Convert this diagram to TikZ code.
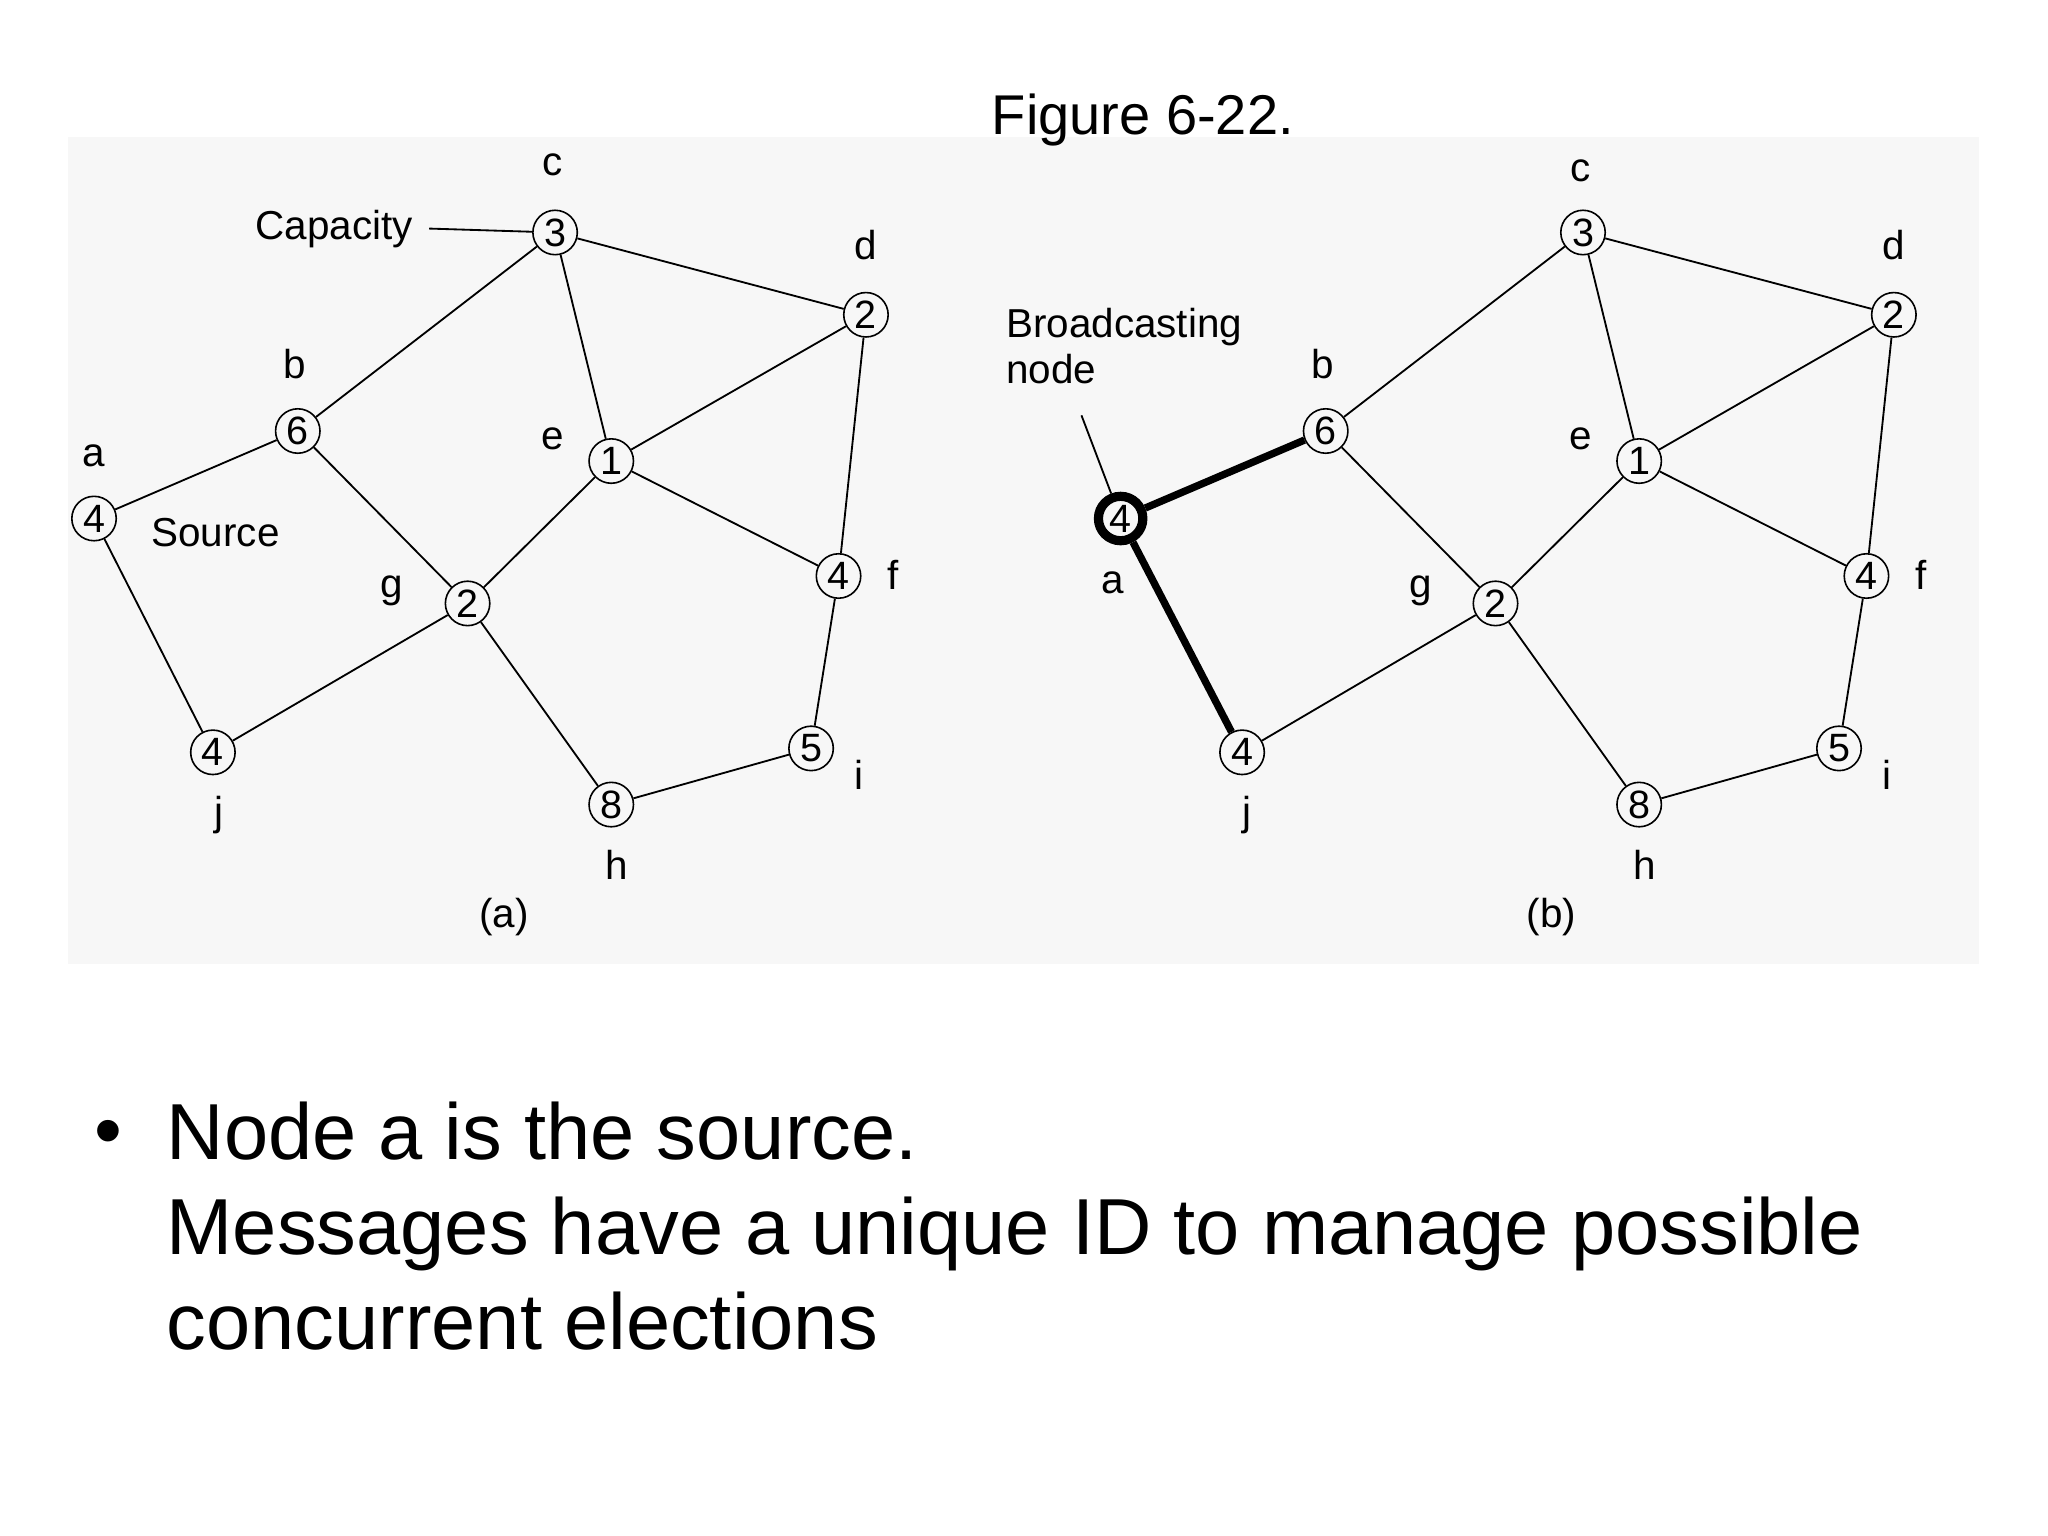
\documentclass[tikz,border=0pt]{standalone}
\usepackage{fontspec}
\setmainfont{Liberation Sans}
\begin{document}
\begin{tikzpicture}[x=0.01cm,y=-0.01cm,
  nd/.style={circle,draw,line width=0.35pt,minimum size=0.34cm,inner sep=0pt,font=\fontsize{8.6}{9}\selectfont},
  lb/.style={font=\fontsize{8.8}{10}\selectfont},
  ed/.style={line width=0.4pt},
  thk/.style={line width=1.6pt}]
\useasboundingbox (0,0) rectangle (1568,1176);
\fill[black!3] (52,105) rectangle (1515,738);
\node[font=\fontsize{12.2}{14}\selectfont] (title) at (875,92) {Figure 6-22.};
% ---------- (a)
\begin{scope}
\node[nd] (c) at (425,178) {3};
\node[nd] (d) at (663,241) {2};
\node[nd] (b) at (228,330) {6};
\node[nd] (e) at (468,353) {1};
\node[nd] (a) at (72,397) {4};
\node[nd] (f) at (642,441) {4};
\node[nd] (g) at (358,462) {2};
\node[nd] (j) at (163,576) {4};
\node[nd] (i) at (621,573) {5};
\node[nd] (h) at (468,616) {8};
\node[lb] (lc) at (423,126) {c};
\node[lb] (ld) at (663,188) {d};
\node[lb] (lb) at (226,279) {b};
\node[lb] (le) at (423,336) {e};
\node[lb] (la) at (72,349) {a};
\node[lb] (lf) at (684,440) {f};
\node[lb] (lg) at (300,452) {g};
\node[lb] (lj) at (168,624) {j};
\node[lb] (li) at (658,593) {i};
\node[lb] (lh) at (472,662) {h};
\node[lb] (cap) at (256,175) {Capacity};
\node[lb] (src) at (165,408) {Source};
\node[lb] (capa) at (386,702) {(a)};
\draw[ed] (cap.east) -- (c);
\foreach \u/\v in {a/b,b/c,c/d,c/e,b/g,e/d,e/f,d/f,e/g,a/j,j/g,g/h,h/i,i/f}
  \draw[ed] (\u) -- (\v);
\end{scope}
% ---------- (b)
\begin{scope}
\node[nd] (c2) at (1212,178) {3};
\node[nd] (d2) at (1450,241) {2};
\node[nd] (b2) at (1015,330) {6};
\node[nd] (e2) at (1255,353) {1};
\node[nd,line width=2pt] (a2) at (858,397) {4};
\node[nd] (f2) at (1429,441) {4};
\node[nd] (g2) at (1145,462) {2};
\node[nd] (j2) at (951,576) {4};
\node[nd] (i2) at (1408,573) {5};
\node[nd] (h2) at (1255,616) {8};
\node[lb] (lc2) at (1210,131) {c};
\node[lb] (ld2) at (1450,188) {d};
\node[lb] (lb2) at (1013,279) {b};
\node[lb] (le2) at (1210,336) {e};
\node[lb] (la2) at (852,446) {a};
\node[lb] (lf2) at (1471,440) {f};
\node[lb] (lg2) at (1088,452) {g};
\node[lb] (lj2) at (955,624) {j};
\node[lb] (li2) at (1445,593) {i};
\node[lb] (lh2) at (1259,662) {h};
\node[lb,align=left,anchor=west] (bn) at (758,265) {Broadcasting\\node};
\node[lb] (capb) at (1188,702) {(b)};
\coordinate (bnp) at (828,318);
\draw[ed] (bnp) -- (a2);
\draw[thk] (a2) -- (b2);
\draw[thk] (a2) -- (j2);
\foreach \u/\v in {b2/c2,c2/d2,c2/e2,b2/g2,e2/d2,e2/f2,d2/f2,e2/g2,j2/g2,g2/h2,h2/i2,i2/f2}
  \draw[ed] (\u) -- (\v);
\end{scope}
% ---------- text
\node[font=\fontsize{17.3}{20.7}\selectfont] (bul) at (83,872) {\textbullet};
\node[font=\fontsize{17.3}{20.7}\selectfont,align=left,anchor=north west,inner sep=0pt] (txt) at (127,843)
 {Node a is the source.\\Messages have a unique ID to manage possible\\concurrent elections};
\end{tikzpicture}
\end{document}
